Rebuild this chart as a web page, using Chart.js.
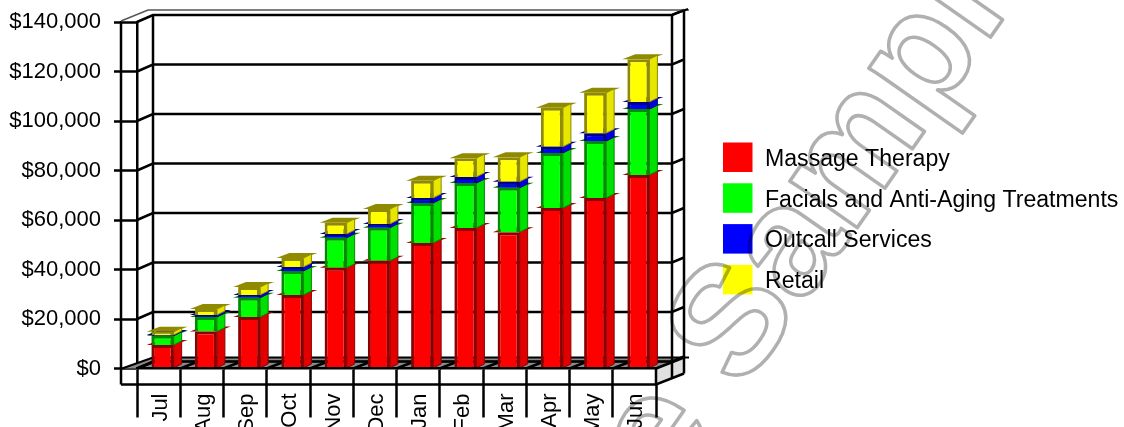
<!DOCTYPE html>
<html>
<head>
<meta charset="utf-8">
<title>Revenue by month</title>
<style>
  html, body { margin: 0; padding: 0; background: #fff; overflow: hidden; }
  canvas { display: block; }
</style>
<script src="https://cdn.jsdelivr.net/npm/chart.js@4"></script>
</head>
<body>
<canvas id="chart" width="1124" height="427"></canvas>
<script>
const months = ['Jul', 'Aug', 'Sep', 'Oct', 'Nov', 'Dec', 'Jan', 'Feb', 'Mar', 'Apr', 'May', 'Jun'];
const massage = [9500, 14900, 20800, 29700, 40700, 43500, 50700, 56800, 55100, 64800, 68900, 78200];
const facials = [3750, 5900, 7800, 9700, 12100, 13400, 16200, 18100, 17900, 22300, 23000, 26600];
const outcall = [300, 800, 1100, 1600, 1500, 1500, 2000, 2500, 2500, 2500, 3200, 2900];
const retail = [1250, 2400, 3200, 3600, 4600, 6000, 7000, 7600, 9900, 15800, 16300, 17300];

const FONT = '"Liberation Sans", Arial, sans-serif';
const BLACK = '#000';
const barShift = 4; // bars sit a little right of the slot centre

function series(label, data, face, edge, side, top) {
    return { label, data, backgroundColor: face, borderColor: edge, borderWidth: 3,
             sideColor: side, topColor: top, inflateAmount: 0 };
}

function poly(ctx, pts, fill, stroke) {
    ctx.beginPath();
    pts.forEach((p, i) => i ? ctx.lineTo(p[0], p[1]) : ctx.moveTo(p[0], p[1]));
    ctx.closePath();
    if (fill) { ctx.fillStyle = fill; ctx.fill(); }
    if (stroke) { ctx.strokeStyle = stroke; ctx.stroke(); }
}

function line(ctx, pts, width, color) {
    ctx.beginPath();
    pts.forEach((p, i) => i ? ctx.lineTo(p[0], p[1]) : ctx.moveTo(p[0], p[1]));
    ctx.lineWidth = width;
    ctx.strokeStyle = color || BLACK;
    ctx.stroke();
}

// Box walls, floor and back gridlines, all hung off the chart's scales
const frame = {
    id: 'frame',
    beforeDatasetsDraw(chart) {
        const { ctx, scales: { x, y } } = chart;
        const left = x.left, right = x.right, y0 = y.getPixelForValue(0), yTop = y.getPixelForValue(140000);
        const backL = left + 16, backR = right + 16, backR2 = right + 28;
        ctx.save();

        // right-hand grey panel under the floor
        poly(ctx, [[right, y0], [backR2, y0 - 11], [backR2, y0 + 5], [right, y0 + 16]], '#e0e0e0');

        // floor
        poly(ctx, [[left - 15, y0], [right, y0], [backR2, y0 - 11], [backL, y0 - 11]], '#8a8a8a');
        line(ctx, [[left, y0], [backL, y0 - 7], [backR, y0 - 7]], 1.5);
        for (let i = 0; i <= months.length; i++) {
            const px = left + i * (right - left) / months.length;
            line(ctx, [[px, y0], [px + 28, y0 - 11]], 2.5);
        }
        line(ctx, [[left - 15, y0], [left + 16, y0 - 11], [backR2 + 5, y0 - 11]], 2);

        // back wall gridlines
        y.ticks.forEach(t => {
            const py = y.getPixelForValue(t.value);
            line(ctx, [[left, py], [backL, py - 7], [backR, py - 7], [backR2, py - 12]], 2.5);
        });

        // uprights
        line(ctx, [[left - 16, yTop - 1], [left - 16, y0 + 16]], 2.5);
        line(ctx, [[backL, yTop - 7], [backL, y0 - 7]], 2.5);
        line(ctx, [[backR, yTop - 7], [backR, y0 + 9]], 2.5);
        line(ctx, [[backR2, yTop - 12], [backR2, y0 + 5]], 2.5);

        // top outer edge and lower edge of the box
        line(ctx, [[left - 16, yTop - 1], [left + 11, yTop - 12], [backR2 + 5, yTop - 12]], 1.5, '#555');
        line(ctx, [[left - 16, y0 + 16], [right, y0 + 16], [backR2, y0 + 5]], 2.5);
        line(ctx, [[right, y0], [right, y0 + 16]], 2.5);
        line(ctx, [[backR, yTop - 7], [backR2 + 4, yTop - 13]], 2);

        // 3D sides and caps of the bars, bottom segment first
        ctx.translate(barShift, 0);
        chart.data.datasets.forEach((ds, d) => {
            chart.getDatasetMeta(d).data.forEach(bar => {
                const l = bar.x - bar.width / 2, r = bar.x + bar.width / 2;
                poly(ctx, [[l - 5, bar.y], [l + 8, bar.y - 5], [r + 14, bar.y - 5], [r, bar.y]], ds.topColor);
                ctx.lineWidth = 1;
                poly(ctx, [[r, bar.y], [r + 8, bar.y - 4], [r + 8, bar.base - 4], [r, bar.base]], ds.sideColor, ds.borderColor);
            });
        });
        ctx.restore();

        // keep the front faces lined up with the sides
        ctx.save();
        ctx.translate(barShift, 0);
    },
    afterDatasetsDraw(chart) {
        chart.ctx.restore();
    }
};

// Legend on the right plus the diagonal watermark
const overlay = {
    id: 'overlay',
    afterDraw(chart) {
        const ctx = chart.ctx;
        ctx.save();
        ctx.font = '23.1px ' + FONT;
        ctx.textBaseline = 'middle';
        chart.data.datasets.forEach((ds, i) => {
            const top = 142.5 + i * 40.8;
            ctx.fillStyle = ds.backgroundColor;
            ctx.fillRect(723, top, 29.5, 29.5);
            ctx.fillStyle = BLACK;
            ctx.fillText(ds.label, 765, top + 17);
        });

        ctx.globalCompositeOperation = 'multiply';
        ctx.translate(742, 392);
        ctx.rotate(-55 * Math.PI / 180);
        ctx.font = 'bold 155px ' + FONT;
        ctx.textBaseline = 'alphabetic';
        ctx.lineWidth = 3.5;
        ctx.lineJoin = 'round';
        ctx.strokeStyle = '#b0b0b0';
        ctx.strokeText('e Sample', -129, 0);
        ctx.restore();
    }
};

const chart = new Chart(document.getElementById('chart'), {
    type: 'bar',
    data: {
        labels: months,
        datasets: [
            series('Massage Therapy', massage, '#ff0000', '#8a0000', '#e00000', '#a80000'),
            series('Facials and Anti-Aging Treatments', facials, '#00ff00', '#008a00', '#00e000', '#008000'),
            series('Outcall Services', outcall, '#0000ff', '#00008a', '#0000e0', '#000080'),
            series('Retail', retail, '#ffff00', '#8f8a00', '#e6e600', '#8f8a00')
        ]
    },
    options: {
        responsive: false,
        animation: false,
        layout: { padding: { top: 22, right: 468, bottom: 0, left: 0 } },
        plugins: { legend: { display: false }, tooltip: { enabled: false } },
        datasets: { bar: { categoryPercentage: 1, barPercentage: 0.51 } },
        scales: {
            x: {
                stacked: true,
                afterFit(scale) { scale.height = 58.5; },
                grid: { offset: true, drawOnChartArea: false, tickLength: 49, tickWidth: 2.5, tickColor: BLACK },
                border: { color: BLACK, width: 2.5, z: 1 },
                ticks: { color: BLACK, font: { family: FONT, size: 22 }, padding: -24, labelOffset: 2,
                          minRotation: 90, maxRotation: 90, autoSkip: false }
            },
            y: {
                stacked: true,
                min: 0,
                max: 140000,
                afterFit(scale) {
                    scale.width = 137;
                    // labels may overhang the plot, the top of the box is fixed
                    scale.paddingTop = 0;
                    scale.paddingBottom = 0;
                },
                grid: { drawOnChartArea: false, tickLength: 23, tickWidth: 2.5, tickColor: BLACK },
                border: { color: BLACK, width: 2.5 },
                ticks: { stepSize: 20000, color: BLACK, font: { family: FONT, size: 22 }, padding: 13,
                          callback: v => '$' + v.toLocaleString('en-US') }
            }
        }
    },
    plugins: [frame, overlay]
});
</script>
</body>
</html>
